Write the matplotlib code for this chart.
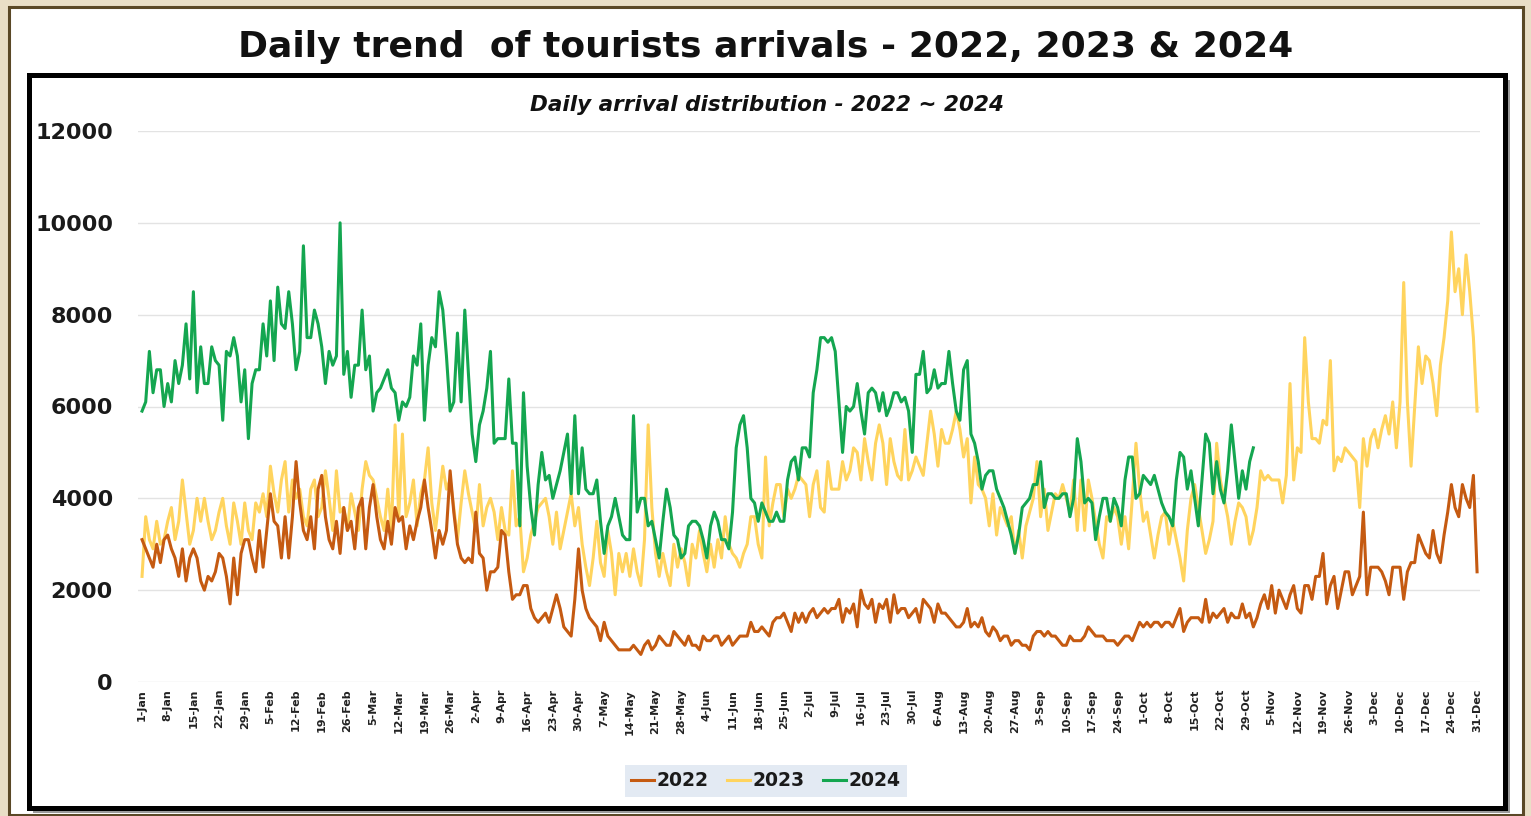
"""plot.py
Daily trend of tourist arrivals 2022 / 2023 / 2024, redrawn with matplotlib.
Writes out.png (1531 x 816 px).
"""
import numpy as np
import matplotlib
matplotlib.use("Agg")
import matplotlib.pyplot as plt
from matplotlib.patches import Rectangle
from matplotlib.lines import Line2D

PNG_OUT = "out.png"

# daily arrivals in hundreds, one row per week starting 1-Jan
ARR_2022 = [
    31, 29, 27, 25, 30, 26, 31,
    32, 29, 27, 23, 29, 22, 27,
    29, 27, 22, 20, 23, 22, 24,
    28, 27, 23, 17, 27, 19, 28,
    31, 31, 27, 24, 33, 25, 33,
    41, 35, 34, 27, 36, 27, 36,
    48, 39, 33, 31, 36, 29, 42,
    45, 36, 31, 29, 35, 28, 38,
    33, 35, 29, 38, 40, 29, 38,
    43, 36, 31, 29, 35, 30, 38,
    35, 36, 29, 34, 31, 35, 38,
    44, 38, 33, 27, 33, 30, 33,
    46, 37, 30, 27, 26, 27, 26,
    37, 28, 27, 20, 24, 24, 25,
    33, 32, 24, 18, 19, 19, 21,
    21, 16, 14, 13, 14, 15, 13,
    16, 19, 16, 12, 11, 10, 18,
    29, 20, 16, 14, 13, 12, 9,
    13, 10, 9, 8, 7, 7, 7,
    7, 8, 7, 6, 8, 9, 7,
    8, 10, 9, 8, 8, 11, 10,
    9, 8, 10, 8, 8, 7, 10,
    9, 9, 10, 10, 8, 9, 10,
    8, 9, 10, 10, 10, 13, 11,
    11, 12, 11, 10, 13, 14, 14,
    15, 13, 11, 15, 13, 15, 13,
    15, 16, 14, 15, 16, 15, 16,
    16, 18, 13, 16, 15, 17, 12,
    20, 17, 16, 18, 13, 17, 16,
    18, 13, 19, 15, 16, 16, 14,
    15, 16, 13, 18, 17, 16, 13,
    17, 15, 15, 14, 13, 12, 12,
    13, 16, 12, 13, 12, 14, 11,
    10, 12, 11, 9, 10, 10, 8,
    9, 9, 8, 8, 7, 10, 11,
    11, 10, 11, 10, 10, 9, 8,
    8, 10, 9, 9, 9, 10, 12,
    11, 10, 10, 10, 9, 9, 9,
    8, 9, 10, 10, 9, 11, 13,
    12, 13, 12, 13, 13, 12, 13,
    13, 12, 14, 16, 11, 13, 14,
    14, 14, 13, 18, 13, 15, 14,
    15, 16, 13, 15, 14, 14, 17,
    14, 15, 12, 14, 17, 19, 16,
    21, 15, 20, 18, 16, 19, 21,
    16, 15, 21, 21, 18, 23, 23,
    28, 17, 21, 23, 16, 20, 24,
    24, 19, 21, 23, 37, 19, 25,
    25, 25, 24, 22, 19, 25, 25,
    25, 18, 24, 26, 26, 32, 30,
    28, 27, 33, 28, 26, 32, 37,
    43, 38, 36, 43, 40, 38, 45, 24,
]

ARR_2023 = [
    23, 36, 31, 29, 35, 30, 31,
    35, 38, 31, 35, 44, 37, 30,
    33, 40, 35, 40, 35, 31, 33,
    37, 40, 34, 30, 39, 35, 30,
    39, 33, 31, 39, 37, 41, 36,
    47, 41, 37, 44, 48, 37, 44,
    40, 42, 36, 34, 42, 44, 36,
    38, 46, 40, 33, 46, 37, 38,
    33, 41, 37, 33, 42, 48, 45,
    44, 40, 36, 33, 42, 33, 56,
    36, 54, 36, 39, 44, 34, 41,
    44, 51, 39, 33, 40, 47, 42,
    44, 38, 31, 39, 46, 41, 37,
    33, 43, 34, 38, 40, 37, 31,
    38, 33, 32, 46, 34, 36, 24,
    27, 32, 35, 38, 39, 40, 36,
    30, 37, 29, 33, 37, 41, 34,
    38, 30, 25, 21, 27, 35, 26,
    23, 33, 28, 19, 28, 24, 28,
    23, 29, 24, 21, 31, 56, 38,
    28, 23, 28, 24, 21, 30, 25,
    29, 26, 21, 30, 27, 33, 28,
    24, 30, 25, 31, 27, 36, 30,
    28, 27, 25, 28, 30, 36, 36,
    30, 27, 49, 34, 39, 43, 43,
    36, 42, 40, 42, 45, 44, 43,
    36, 43, 46, 38, 37, 48, 42,
    42, 42, 48, 44, 46, 51, 50,
    44, 53, 48, 44, 52, 56, 52,
    43, 53, 48, 45, 44, 55, 44,
    46, 49, 47, 45, 52, 59, 54,
    47, 55, 52, 52, 55, 59, 55,
    49, 53, 39, 49, 43, 42, 40,
    34, 41, 32, 38, 36, 34, 36,
    28, 33, 27, 34, 37, 40, 48,
    36, 42, 33, 37, 41, 40, 43,
    40, 37, 44, 33, 44, 33, 44,
    40, 35, 30, 27, 36, 35, 38,
    36, 30, 36, 29, 40, 52, 42,
    35, 37, 32, 27, 32, 36, 37,
    30, 35, 31, 27, 22, 33, 40,
    43, 38, 33, 28, 31, 35, 52,
    44, 40, 36, 30, 35, 39, 38,
    36, 30, 33, 38, 46, 44, 45,
    44, 44, 44, 39, 45, 65, 44,
    51, 50, 75, 61, 53, 53, 52,
    57, 56, 70, 46, 49, 48, 51,
    50, 49, 48, 38, 53, 47, 53,
    55, 51, 55, 58, 54, 61, 51,
    61, 87, 61, 47, 60, 73, 65,
    71, 70, 65, 58, 69, 75, 83,
    98, 85, 90, 80, 93, 85, 75, 59,
]

# 2024 runs to 30-Oct
ARR_2024 = [
    59, 61, 72, 63, 68, 68, 60,
    65, 61, 70, 65, 69, 78, 66,
    85, 63, 73, 65, 65, 73, 70,
    69, 57, 72, 71, 75, 71, 61,
    68, 53, 65, 68, 68, 78, 71,
    83, 70, 86, 78, 77, 85, 78,
    68, 72, 95, 75, 75, 81, 78,
    73, 65, 72, 69, 71, 100, 67,
    72, 62, 69, 69, 81, 68, 71,
    59, 63, 64, 66, 68, 64, 63,
    57, 61, 60, 62, 71, 69, 78,
    57, 69, 75, 73, 85, 81, 71,
    59, 61, 76, 61, 81, 67, 54,
    48, 56, 59, 64, 72, 52, 53,
    53, 53, 66, 52, 52, 34, 63,
    47, 38, 32, 43, 50, 44, 45,
    40, 43, 46, 50, 54, 41, 58,
    41, 51, 42, 41, 41, 44, 35,
    28, 34, 36, 40, 36, 32, 31,
    31, 58, 37, 40, 40, 34, 35,
    31, 27, 35, 42, 38, 32, 31,
    27, 28, 34, 35, 35, 34, 31,
    27, 34, 37, 35, 31, 31, 29,
    37, 51, 56, 58, 51, 40, 39,
    35, 39, 37, 35, 35, 37, 35,
    35, 44, 48, 49, 44, 51, 51,
    49, 63, 68, 75, 75, 74, 75,
    72, 61, 50, 60, 59, 60, 65,
    59, 54, 63, 64, 63, 59, 63,
    58, 60, 63, 63, 61, 62, 59,
    50, 67, 67, 72, 63, 64, 68,
    64, 65, 65, 72, 65, 59, 57,
    68, 70, 54, 52, 48, 42, 45,
    46, 46, 42, 40, 38, 35, 32,
    28, 32, 38, 39, 40, 43, 43,
    48, 38, 41, 41, 40, 40, 41,
    41, 36, 40, 53, 48, 39, 40,
    39, 31, 36, 40, 40, 35, 40,
    38, 34, 44, 49, 49, 40, 41,
    45, 44, 43, 45, 42, 39, 37,
    36, 34, 44, 50, 49, 42, 46,
    40, 34, 44, 54, 52, 41, 48,
    42, 39, 46, 56, 48, 40, 46,
    42, 48, 51,
]

TICK_LABELS = [
    "1-Jan", "8-Jan", "15-Jan", "22-Jan", "29-Jan", "5-Feb", "12-Feb",
    "19-Feb", "26-Feb", "5-Mar", "12-Mar", "19-Mar", "26-Mar", "2-Apr",
    "9-Apr", "16-Apr", "23-Apr", "30-Apr", "7-May", "14-May", "21-May",
    "28-May", "4-Jun", "11-Jun", "18-Jun", "25-Jun", "2-Jul", "9-Jul",
    "16-Jul", "23-Jul", "30-Jul", "6-Aug", "13-Aug", "20-Aug", "27-Aug",
    "3-Sep", "10-Sep", "17-Sep", "24-Sep", "1-Oct", "8-Oct", "15-Oct",
    "22-Oct", "29-Oct", "5-Nov", "12-Nov", "19-Nov", "26-Nov", "3-Dec",
    "10-Dec", "17-Dec", "24-Dec", "31-Dec",
]
Y_TICKS = [0, 2000, 4000, 6000, 8000, 10000, 12000]

SERIES = ["2022", "2023", "2024"]
COLORS = {"2022": "#C55A11", "2023": "#FFD45E", "2024": "#14A650"}

W, H = 1531, 816


def fx(px):
    return px / W


def fy(py):
    return 1 - py / H


def main():
    plt.rcParams["font.family"] = ["DejaVu Sans"]
    fig = plt.figure(figsize=(W / 100, H / 100), dpi=100)
    fig.patch.set_facecolor("#E9DEC6")

    # outer frame (white card with brown border)
    fig.add_artist(Rectangle((fx(9), fy(815)), fx(1514), 808 / H,
                             transform=fig.transFigure, facecolor="white",
                             edgecolor="#5A4826", lw=2.2, zorder=0))
    # inner chart box with shadow
    fig.add_artist(Rectangle((fx(33), fy(813)), fx(1477), 733 / H,
                             transform=fig.transFigure, facecolor="#9a9a9a",
                             edgecolor="none", zorder=0.5))
    fig.add_artist(Rectangle((fx(29), fy(808)), fx(1476), 733 / H,
                             transform=fig.transFigure, facecolor="white",
                             edgecolor="black", lw=3.6, zorder=0.6))

    fig.text(fx(766), fy(47), "Daily trend  of tourists arrivals - 2022, 2023 & 2024",
             ha="center", va="center", fontsize=26, fontweight="bold",
             color="#111111")

    ax = fig.add_axes([fx(138), fy(682), fx(1480 - 138), (682 - 131) / H])
    ax.set_zorder(2)
    ax.patch.set_alpha(0)

    data = {"2022": ARR_2022, "2023": ARR_2023, "2024": ARR_2024}
    zorders = {"2022": 4, "2023": 3, "2024": 5}
    for name in SERIES:
        vals = np.array(data[name], dtype=float) * 100
        ax.plot(np.arange(len(vals)), vals, color=COLORS[name], lw=2.2,
                zorder=zorders[name], solid_joinstyle="round")

    ax.set_xlim(-1.1, 364.8)
    ax.set_ylim(0, 12000)
    ax.set_yticks(Y_TICKS)
    ax.set_yticklabels([str(v) for v in Y_TICKS], fontsize=16,
                       fontweight="bold", color="#1a1a1a")
    ax.set_xticks(np.arange(len(TICK_LABELS)) * 7)
    ax.set_xticklabels(TICK_LABELS, rotation=90, fontsize=8,
                       fontweight="bold", color="#222222")
    ax.tick_params(axis="y", length=0, pad=18)
    ax.tick_params(axis="x", length=0, pad=5)
    ax.grid(axis="y", color="#e3e3e3", lw=1.0, zorder=0)
    for s in ax.spines.values():
        s.set_visible(False)

    fig.text(fx(767), fy(105), "Daily arrival distribution - 2022 ~ 2024",
             ha="center", va="center", fontsize=15.5, fontweight="bold",
             style="italic", color="#111111")

    handles = [Line2D([0], [0], color=COLORS[n], lw=2.2) for n in SERIES]
    leg = fig.legend(handles, SERIES, loc="center", ncol=3,
                     bbox_to_anchor=(fx(766), fy(781)), frameon=True,
                     fontsize=13.5, handlelength=1.2, handletextpad=0.15,
                     columnspacing=1.0, borderpad=0.35, fancybox=False)
    leg.get_frame().set_facecolor("#DCE5F0")
    leg.get_frame().set_edgecolor("none")
    for t in leg.get_texts():
        t.set_fontweight("bold")
        t.set_color("#1a1a1a")

    fig.savefig(PNG_OUT, dpi=100, facecolor=fig.get_facecolor())
    plt.close(fig)


if __name__ == "__main__":
    main()
